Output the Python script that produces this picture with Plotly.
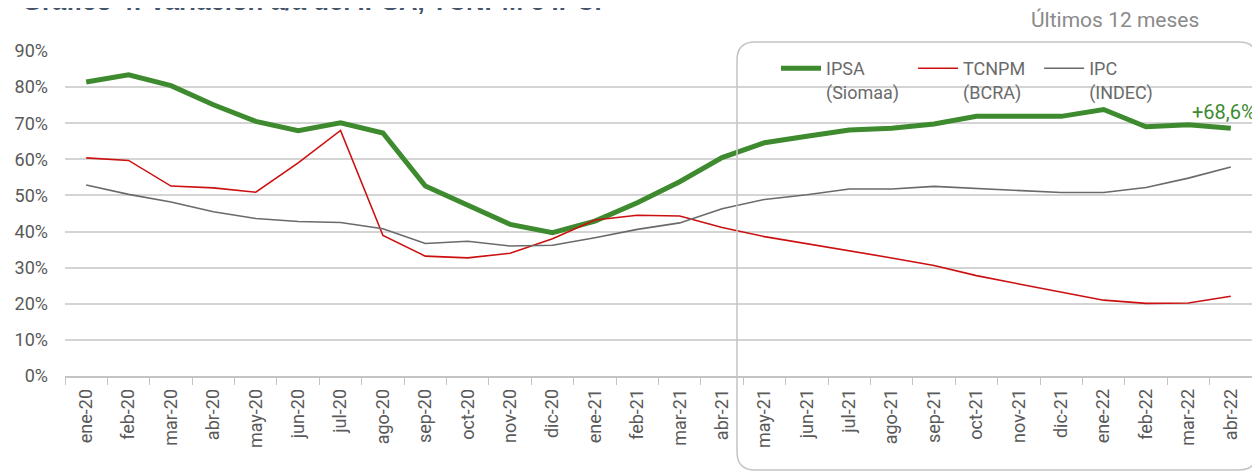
import plotly.graph_objects as go

meses = ["ene-20", "feb-20", "mar-20", "abr-20", "may-20", "jun-20", "jul-20", "ago-20",
         "sep-20", "oct-20", "nov-20", "dic-20", "ene-21", "feb-21", "mar-21", "abr-21",
         "may-21", "jun-21", "jul-21", "ago-21", "sep-21", "oct-21", "nov-21", "dic-21",
         "ene-22", "feb-22", "mar-22", "abr-22"]

ipsa = [81.4, 83.4, 80.4, 75.1, 70.5, 67.9, 70.1, 67.3,
        52.6, 47.2, 42.0, 39.7, 42.9, 48.0, 53.8, 60.5,
        64.6, 66.4, 68.1, 68.6, 69.8, 71.9, 71.9, 71.9,
        73.8, 69.0, 69.6, 68.6]

tcnpm = [60.4, 59.7, 52.6, 52.1, 50.9, 59.0, 68.0, 38.9,
         33.2, 32.7, 34.0, 38.0, 43.2, 44.5, 44.3, 41.1,
         38.6, 36.7, 34.7, 32.7, 30.6, 27.8, 25.5, 23.2,
         21.0, 20.1, 20.2, 22.1]

ipc = [52.9, 50.3, 48.2, 45.5, 43.6, 42.8, 42.5, 40.8,
       36.7, 37.3, 36.0, 36.2, 38.3, 40.6, 42.4, 46.3,
       48.9, 50.2, 51.8, 51.8, 52.5, 51.9, 51.2, 50.8,
       50.8, 52.2, 54.8, 57.9]

y_ticks = [0, 10, 20, 30, 40, 50, 60, 70, 80, 90]
y_labels = [f"{v}%" for v in y_ticks]

NB = "\u00a0\u00a0"
serie_names = ["IPSA<br>(Siomaa)" + NB, "TCNPM" + NB + "<br>(BCRA)", "IPC<br>(INDEC)" + NB]
ultimo_label = "+68,6%"
titulo = "<b>Gráfico 4: Variación a/a del IPSA, TCNPM e IPC.</b>"
subtitulo = "Últimos 12 meses"

# page offset of the figure (default body margin)
OFF = 8
W, H = 1260 - OFF, 473 - OFF
ML, MT = 57, 43
PW, PH = 1187, 325
MR, MB = W - ML - PW, H - MT - PH


def px(x):
    return (x - OFF - ML) / PW


def py(y):
    return (H - MB - (y - OFF)) / PH


GREEN = "#3e8a2f"
RED = "#cc1010"
GREY = "#6a6a6a"
TXT = "#595959"
FONT = "Roboto"

fig = go.Figure()
fig.add_trace(go.Scatter(x=meses, y=ipsa, mode="lines", name=serie_names[0],
                         line=dict(color=GREEN, width=5)))
fig.add_trace(go.Scatter(x=meses, y=tcnpm, mode="lines", name=serie_names[1],
                         line=dict(color=RED, width=1.6)))
fig.add_trace(go.Scatter(x=meses, y=ipc, mode="lines", name=serie_names[2],
                         line=dict(color=GREY, width=1.6)))

# rounded box around last 12 months
x0, x1, y0, y1 = px(737), px(1257), py(470), py(42)
rx, ry = 18 / PW, 18 / PH
path = (f"M {x0 + rx},{y1} L {x1 - rx},{y1} Q {x1},{y1} {x1},{y1 - ry} "
        f"L {x1},{y0 + ry} Q {x1},{y0} {x1 - rx},{y0} "
        f"L {x0 + rx},{y0} Q {x0},{y0} {x0},{y0 + ry} "
        f"L {x0},{y1 - ry} Q {x0},{y1} {x0 + rx},{y1} Z")
fig.add_shape(type="path", path=path, xref="paper", yref="paper",
              line=dict(color="#c4c4c4", width=1.5), fillcolor="rgba(0,0,0,0)",
              layer="above")

fig.add_annotation(x=meses[-1], y=ipsa[-1], text=ultimo_label, showarrow=False,
                   xanchor="right", yanchor="middle", yshift=16, xshift=27,
                   font=dict(family=FONT, size=20, color=GREEN))
fig.add_annotation(xref="paper", yref="paper", x=px(1201), y=py(20), text=subtitulo,
                   showarrow=False, xanchor="right", yanchor="middle",
                   font=dict(family=FONT, size=21, color="#8a8a8a"))
fig.add_annotation(xref="paper", yref="paper", x=px(20), y=py(17), text=titulo,
                   showarrow=False, xanchor="left", yanchor="bottom",
                   font=dict(family="Liberation Sans", size=25.7, color="#44546a"))

fig.update_layout(
    width=W, height=H,
    margin=dict(l=ML, r=MR, t=MT, b=MB, autoexpand=False),
    plot_bgcolor="white", paper_bgcolor="white",
    font=dict(family=FONT, size=18, color=TXT),
    showlegend=True,
    legend=dict(orientation="h", x=px(776), y=py(50), xanchor="left", yanchor="top",
                bgcolor="rgba(0,0,0,0)", font=dict(family=FONT, size=18, color="#6b6b6b"),
                valign="top", itemwidth=40, traceorder="normal"),
    xaxis=dict(type="category", range=[-0.5, len(meses) - 0.5], tickangle=-90,
               showgrid=False, showline=True, linecolor="#c4c4c4", linewidth=1.5,
               ticks="outside", tickson="boundaries", ticklen=7, tickcolor="#c4c4c4",
               automargin=False, ticklabelstandoff=4,
               tickfont=dict(family=FONT, size=18, color=TXT)),
    yaxis=dict(range=[0, 90], tickvals=y_ticks, ticktext=y_labels, automargin=False,
               showgrid=True, gridcolor="#d4d4d4", gridwidth=1.5, zeroline=False,
               showline=False, ticks="", ticklabelstandoff=16,
               tickfont=dict(family=FONT, size=18, color=TXT)),
)

fig.write_html("out.html")
